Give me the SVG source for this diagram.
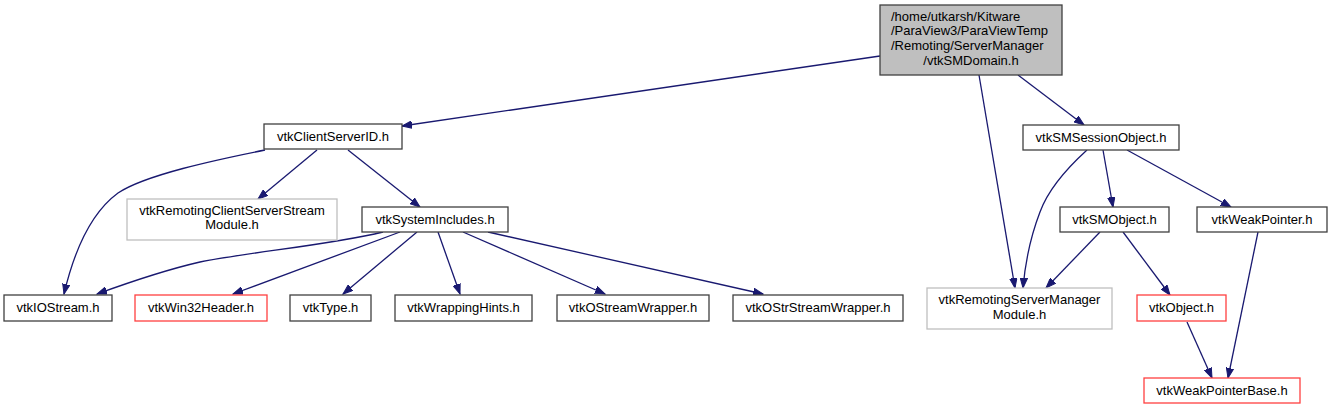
<svg xmlns="http://www.w3.org/2000/svg" width="1330" height="409" viewBox="0 0 1330 409">
<defs>
<style>
.n rect{fill:#fff;stroke:#404040;stroke-width:1.3}
.n.main rect{fill:#bfbfbf}
.n.gray rect{stroke:#bfbfbf}
.n.red rect{stroke:#ff4040}
text{font-family:"Liberation Sans",Arial,Helvetica,sans-serif;font-size:13px;fill:#000;text-anchor:middle}
text.l{text-anchor:start}
#edges path{fill:none;stroke:#191970;stroke-width:1.3;marker-end:url(#arr)}
</style>
<marker id="arr" markerUnits="userSpaceOnUse" markerWidth="11" markerHeight="8" refX="10" refY="4" orient="auto">
<path d="M0,0.3 L10,4 L0,7.7 z" fill="#191970" stroke="#191970" stroke-width="1"/>
</marker>
</defs>
<rect width="1330" height="409" fill="#fff"/>
<g id="edges">
<path d="M880,56 L402,126"/>
<path d="M979,75 L1015,288"/>
<path d="M1018,75 L1084,125"/>
<path d="M265,150 C215,160 145,175 118,193 C88,215 72,260 64,294"/>
<path d="M317,150 L258,199"/>
<path d="M348,150 L420,207"/>
<path d="M383,232 C330,245 250,252 200,262 C165,270 130,282 97,294"/>
<path d="M400,232 L233,294"/>
<path d="M417,232 L343,294"/>
<path d="M438,232 L460,294"/>
<path d="M463,232 L605,294"/>
<path d="M488,232 L763,294"/>
<path d="M1087,150 C1065,170 1048,190 1040,212 C1030,238 1025,265 1023,288"/>
<path d="M1103,150 L1113,207"/>
<path d="M1127,150 L1231,207"/>
<path d="M1100,232 L1046,288"/>
<path d="M1123,232 L1170,295"/>
<path d="M1258,232 L1228,378"/>
<path d="M1187,322 L1212,378"/>
</g>
<g id="n_main" class="n main"><rect x="880" y="5" width="182" height="70"/>
<text class="l" x="891" y="20.5">/home/utkarsh/Kitware</text>
<text class="l" x="891" y="35.2">/ParaView3/ParaViewTemp</text>
<text class="l" x="891" y="49.9">/Remoting/ServerManager</text>
<text x="971" y="64.6">/vtkSMDomain.h</text></g>
<g id="n_csid" class="n"><rect x="264" y="124" width="138" height="25"/><text x="333" y="141">vtkClientServerID.h</text></g>
<g id="n_css" class="n gray"><rect x="127" y="199" width="210" height="41"/><text x="232" y="214.5">vtkRemotingClientServerStream</text><text x="232" y="229">Module.h</text></g>
<g id="n_sysinc" class="n"><rect x="362" y="207" width="146" height="25"/><text x="435" y="224">vtkSystemIncludes.h</text></g>
<g id="n_iostream" class="n"><rect x="4" y="295" width="108" height="26"/><text x="58" y="312">vtkIOStream.h</text></g>
<g id="n_win32" class="n red"><rect x="135" y="295" width="132" height="26"/><text x="201" y="312">vtkWin32Header.h</text></g>
<g id="n_type" class="n"><rect x="290" y="295" width="81" height="26"/><text x="330.5" y="312">vtkType.h</text></g>
<g id="n_wrap" class="n"><rect x="395" y="295" width="137" height="26"/><text x="463.5" y="312">vtkWrappingHints.h</text></g>
<g id="n_ostream" class="n"><rect x="557" y="295" width="152" height="26"/><text x="633" y="312">vtkOStreamWrapper.h</text></g>
<g id="n_ostrstream" class="n"><rect x="733" y="295" width="170" height="26"/><text x="818" y="312">vtkOStrStreamWrapper.h</text></g>
<g id="n_session" class="n"><rect x="1023" y="125" width="156" height="25"/><text x="1101" y="142">vtkSMSessionObject.h</text></g>
<g id="n_smobject" class="n"><rect x="1060" y="207" width="109" height="25"/><text x="1114.5" y="224">vtkSMObject.h</text></g>
<g id="n_weak" class="n"><rect x="1197" y="207" width="130" height="25"/><text x="1262" y="224">vtkWeakPointer.h</text></g>
<g id="n_rsm" class="n gray"><rect x="927" y="288" width="185" height="41"/><text x="1019.5" y="304">vtkRemotingServerManager</text><text x="1019.5" y="318.5">Module.h</text></g>
<g id="n_object" class="n red"><rect x="1137" y="295" width="89" height="26"/><text x="1181.5" y="312">vtkObject.h</text></g>
<g id="n_wpbase" class="n red"><rect x="1144" y="378" width="156" height="25"/><text x="1222" y="395">vtkWeakPointerBase.h</text></g>
</svg>
